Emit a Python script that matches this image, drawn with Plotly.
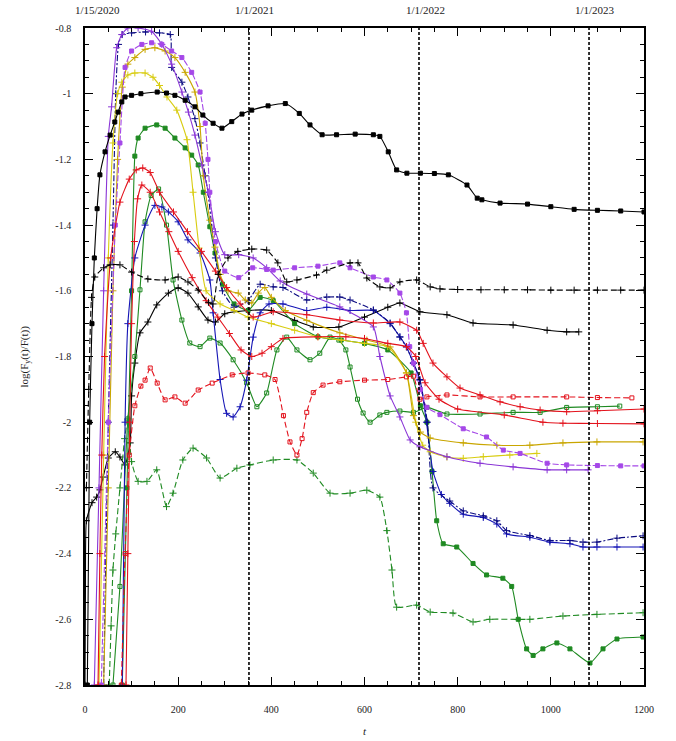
import plotly.graph_objects as go

# ---------------- data ----------------
s1_t = [5, 10, 15, 20, 26, 32, 43, 54, 64, 71, 79, 86, 100, 120, 155, 175, 193, 215, 236, 253, 275, 294, 315, 337, 358, 393, 430, 460, 483, 509, 540, 580, 619, 633, 651, 669, 691, 720, 750, 780, 820, 842, 852, 891, 950, 1000, 1050, 1100, 1150, 1200]
s1_y = [-2.8, -2.0, -1.7, -1.5, -1.35, -1.247, -1.177, -1.126, -1.086, -1.056, -1.025, -1.01, -1.005, -1.0, -0.995, -0.998, -1.005, -1.02, -1.04, -1.065, -1.09, -1.105, -1.085, -1.062, -1.05, -1.037, -1.03, -1.06, -1.095, -1.125, -1.125, -1.123, -1.125, -1.13, -1.177, -1.232, -1.242, -1.242, -1.243, -1.247, -1.278, -1.318, -1.323, -1.333, -1.336, -1.344, -1.352, -1.355, -1.357, -1.36]

s2_t = [3, 8, 14, 21, 40, 54, 75, 100, 135, 172, 200, 221, 243, 265, 275, 286, 307, 328, 358, 390, 414, 433, 455, 497, 519, 569, 586, 605, 633, 655, 676, 712, 741, 762, 800, 850, 900, 950, 1000, 1050, 1100, 1150, 1200]
s2_y = [-2.2, -1.9, -1.62, -1.558, -1.53, -1.521, -1.521, -1.543, -1.564, -1.567, -1.558, -1.573, -1.598, -1.635, -1.64, -1.55, -1.5, -1.48, -1.473, -1.476, -1.515, -1.573, -1.567, -1.552, -1.537, -1.515, -1.515, -1.561, -1.588, -1.591, -1.573, -1.567, -1.588, -1.594, -1.596, -1.597, -1.597, -1.597, -1.598, -1.598, -1.598, -1.598, -1.598]

s4_t = [0, 1, 3, 15, 25, 32, 39, 50, 65, 75, 86, 97, 100, 107, 118, 135, 154, 179, 200, 221, 243, 264, 280, 300, 350, 400, 450, 490, 545, 600, 650, 676, 719, 777, 833, 919, 992, 1034, 1060]
s4_y = [-2.8, -2.5, -2.3, -2.245, -2.228, -2.206, -2.167, -2.109, -2.09, -2.106, -2.13, -2.063, -1.92, -1.82, -1.728, -1.695, -1.643, -1.607, -1.591, -1.607, -1.649, -1.689, -1.695, -1.67, -1.66, -1.66, -1.69, -1.71, -1.71, -1.68, -1.65, -1.637, -1.664, -1.673, -1.698, -1.704, -1.72, -1.725, -1.725]

r1_t = [78, 86, 95, 107, 120, 129, 140, 155, 172, 193, 215, 243, 273, 316, 350, 386, 408, 426, 440, 455, 466, 476, 490, 511, 547, 600, 650, 690, 705, 719, 734, 777, 848, 919, 1034, 1100, 1174]
r1_y = [-2.8, -2.4, -2.1, -1.95, -1.89, -1.872, -1.835, -1.881, -1.932, -1.923, -1.942, -1.902, -1.881, -1.856, -1.85, -1.856, -1.87, -1.98, -2.06, -2.1, -2.05, -1.97, -1.91, -1.887, -1.877, -1.872, -1.87, -1.862, -1.86, -1.93, -1.923, -1.917, -1.923, -1.923, -1.923, -1.925, -1.926]

r2_t = [28, 32, 36, 42, 55, 75, 95, 110, 124, 140, 160, 190, 220, 250, 280, 304, 333, 361, 404, 476, 547, 619, 676, 712, 726, 747, 777, 805, 848, 891, 934, 977, 1034, 1100, 1200]
r2_y = [-2.8, -2.4, -2.1, -1.8, -1.5, -1.33, -1.26, -1.232, -1.226, -1.24, -1.3, -1.36, -1.42, -1.48, -1.54, -1.59, -1.64, -1.68, -1.664, -1.673, -1.689, -1.698, -1.695, -1.72, -1.76, -1.82, -1.862, -1.896, -1.917, -1.938, -1.953, -1.963, -1.968, -1.965, -1.96]

r3_t = [88, 92, 96, 100, 106, 113, 122, 140, 160, 180, 200, 230, 260, 285, 310, 335, 358, 380, 400, 425, 500, 560, 600, 650, 690, 710, 730, 760, 800, 900, 983, 1026, 1100, 1200]
r3_y = [-2.8, -2.4, -2.0, -1.7, -1.45, -1.32, -1.278, -1.3, -1.36, -1.42, -1.48, -1.56, -1.63, -1.68, -1.73, -1.78, -1.8, -1.79, -1.77, -1.745, -1.74, -1.74, -1.745, -1.76, -1.77, -1.8, -1.88, -1.93, -1.96, -1.978, -2.0, -2.003, -2.004, -2.005]

g1_t = [80, 90, 100, 107, 114, 129, 154, 172, 193, 215, 229, 243, 254, 268, 279, 295, 320, 350, 376, 404, 450, 500, 550, 600, 650, 700, 720, 734, 745, 755, 769, 798, 833, 862, 897, 916, 930, 948, 962, 983, 1013, 1041, 1084, 1112, 1142, 1198]
g1_y = [-2.8, -2.2, -1.6, -1.19, -1.135, -1.105, -1.095, -1.105, -1.135, -1.165, -1.187, -1.217, -1.3, -1.405, -1.485, -1.58, -1.64, -1.66, -1.62, -1.63, -1.7, -1.74, -1.75, -1.76, -1.78, -1.85, -1.95, -2.0, -2.15, -2.3, -2.37, -2.38, -2.43, -2.465, -2.475, -2.5, -2.6, -2.69, -2.71, -2.69, -2.672, -2.69, -2.733, -2.69, -2.66, -2.654]

g2_t = [52, 56, 60, 66, 75, 85, 92, 100, 114, 133, 154, 175, 189, 210, 232, 261, 290, 326, 354, 404, 455, 490, 526, 569, 605, 633, 648, 659, 669, 712, 741, 790, 833, 869, 955, 1026, 1099, 1198]
g2_y = [-2.8, -2.62, -2.45, -2.34, -2.2, -2.05, -1.99, -2.12, -2.18, -2.18, -2.145, -2.257, -2.216, -2.115, -2.079, -2.109, -2.17, -2.14, -2.13, -2.115, -2.115, -2.155, -2.216, -2.216, -2.207, -2.228, -2.33, -2.45, -2.563, -2.557, -2.578, -2.581, -2.608, -2.6, -2.6, -2.59, -2.585, -2.58]

g4_t = [60, 75, 92, 107, 118, 129, 142, 158, 175, 189, 208, 225, 247, 268, 290, 318, 347, 369, 390, 412, 433, 455, 483, 504, 526, 545, 560, 569, 585, 597, 612, 633, 648, 676, 705, 734, 777, 848, 919, 977, 1034, 1100, 1148]
g4_y = [-2.8, -2.5, -1.99, -1.8, -1.597, -1.39, -1.31, -1.29, -1.4, -1.567, -1.689, -1.759, -1.77, -1.744, -1.759, -1.81, -1.88, -1.953, -1.911, -1.78, -1.741, -1.78, -1.81, -1.79, -1.741, -1.75, -1.78, -1.832, -1.93, -1.972, -2.0, -1.978, -1.97, -1.966, -1.97, -1.955, -1.975, -1.975, -1.97, -1.97, -1.955, -1.953, -1.951]

b1_t = [80, 86, 92, 107, 129, 150, 165, 179, 200, 221, 247, 268, 275, 290, 304, 318, 333, 347, 361, 376, 395, 425, 476, 519, 569, 619, 655, 676, 690, 705, 719, 733, 747, 765, 783, 812, 855, 884, 905, 955, 998, 1041, 1069, 1099, 1142, 1198]
b1_y = [-2.8, -2.0, -1.7, -1.5, -1.4, -1.34, -1.345, -1.36, -1.39, -1.445, -1.485, -1.567, -1.667, -1.87, -1.973, -1.984, -1.953, -1.872, -1.741, -1.667, -1.64, -1.64, -1.66, -1.65, -1.66, -1.66, -1.7, -1.74, -1.77, -1.82, -1.87, -2.0, -2.15, -2.22, -2.247, -2.28, -2.29, -2.31, -2.34, -2.35, -2.365, -2.37, -2.38, -2.38, -2.38, -2.38]

b2_t = [40, 50, 60, 66, 72, 80, 100, 130, 160, 183, 186, 208, 221, 236, 247, 258, 264, 280, 295, 320, 350, 376, 404, 425, 476, 519, 547, 569, 619, 655, 676, 690, 705, 719, 735, 747, 783, 812, 855, 884, 905, 955, 998, 1041, 1069, 1099, 1142, 1198]
b2_y = [-2.8, -2.0, -1.4, -1.0, -0.85, -0.82, -0.815, -0.812, -0.815, -0.82, -0.92, -0.965, -1.01, -1.076, -1.15, -1.25, -1.3, -1.5, -1.6, -1.65, -1.63, -1.58, -1.588, -1.59, -1.628, -1.619, -1.619, -1.628, -1.658, -1.698, -1.741, -1.771, -1.82, -1.872, -2.0, -2.2, -2.24, -2.27, -2.285, -2.3, -2.33, -2.345, -2.36, -2.36, -2.365, -2.365, -2.353, -2.346]

p1_t = [20, 30, 40, 50, 57, 68, 79, 92, 114, 143, 165, 186, 208, 222, 236, 251, 265, 280, 300, 330, 361, 390, 419, 476, 547, 619, 633, 655, 676, 698, 719, 777, 848, 919, 992, 1034, 1080]
p1_y = [-2.8, -2.2, -1.6, -1.13, -1.04, -0.86, -0.82, -0.8, -0.8, -0.81, -0.85, -0.91, -0.995, -1.056, -1.126, -1.217, -1.3, -1.42, -1.49, -1.49, -1.5, -1.53, -1.57, -1.61, -1.649, -1.71, -1.8, -1.92, -1.984, -2.054, -2.075, -2.105, -2.125, -2.136, -2.145, -2.145, -2.145]

p2_t = [35, 50, 65, 75, 86, 100, 122, 143, 165, 186, 208, 229, 247, 258, 264, 268, 280, 300, 330, 360, 390, 404, 450, 500, 547, 569, 619, 648, 676, 690, 697, 705, 720, 734, 762, 812, 862, 898, 934, 992, 1034, 1100, 1150, 1200]
p2_y = [-2.8, -2.0, -1.4, -1.15, -0.92, -0.87, -0.85, -0.845, -0.85, -0.87, -0.89, -0.935, -0.995, -1.09, -1.2, -1.3, -1.45, -1.54, -1.56, -1.53, -1.535, -1.537, -1.53, -1.525, -1.515, -1.53, -1.558, -1.567, -1.607, -1.667, -1.77, -1.82, -1.9, -1.955, -1.977, -2.02, -2.045, -2.085, -2.095, -2.125, -2.13, -2.132, -2.133, -2.133]

y1_t = [40, 50, 60, 70, 80, 92, 107, 129, 150, 172, 193, 215, 236, 247, 254, 268, 279, 290, 307, 329, 344, 358, 372, 386, 400, 430, 476, 547, 605, 655, 690, 705, 720, 741, 812, 884, 955, 1026, 1099, 1198]
y1_y = [-2.8, -2.2, -1.6, -1.2, -0.98, -0.91, -0.89, -0.865, -0.86, -0.87, -0.89, -0.935, -0.995, -1.1, -1.25, -1.385, -1.467, -1.55, -1.6, -1.607, -1.628, -1.637, -1.607, -1.59, -1.62, -1.66, -1.69, -1.728, -1.75, -1.771, -1.85, -1.98, -2.03, -2.048, -2.063, -2.07, -2.07, -2.063, -2.06, -2.06]

y2_t = [30, 40, 50, 60, 70, 79, 92, 107, 129, 146, 160, 176, 197, 219, 232, 245, 260, 290, 320, 350, 400, 450, 500, 550, 600, 650, 690, 710, 725, 741, 777, 812, 855, 912, 970]
y2_y = [-2.8, -2.1, -1.5, -1.15, -1.0, -0.965, -0.943, -0.937, -0.937, -0.95, -0.975, -1.01, -1.05, -1.14, -1.3, -1.47, -1.6, -1.64, -1.66, -1.68, -1.7, -1.72, -1.74, -1.75, -1.76, -1.77, -1.85, -2.0, -2.07, -2.09, -2.106, -2.11, -2.105, -2.1, -2.095]

x_ticks = [0, 200, 400, 600, 800, 1000, 1200]
y_ticks = [-2.8, -2.6, -2.4, -2.2, -2.0, -1.8, -1.6, -1.4, -1.2, -1.0, -0.8]
y_tick_text = ["-2.8", "-2.6", "-2.4", "-2.2", "-2", "-1.8", "-1.6", "-1.4", "-1.2", "-1", "-0.8"]
date_days = [352, 717, 1082]
label_days = [0, 352, 717, 1082]
date_labels = ["1/15/2020", "1/1/2021", "1/1/2022", "1/1/2023"]

# ---------------- styles ----------------
BLACK = "#000000"
RED = "#E3121C"
GREEN = "#1F8A22"
BLUE = "#1515B5"
NAVY = "#0A0A80"
PURPLE1 = "#8A35D6"
PURPLE2 = "#A548E8"
GOLD = "#C9A600"
YELLOW = "#D8CC10"

series = [
    (s4_t, s4_y, BLACK, "solid", "cross-thin"),
    (g2_t, g2_y, GREEN, "6px,3px", "cross-thin"),
    (g1_t, g1_y, GREEN, "solid", "square"),
    (g4_t, g4_y, GREEN, "solid", "square-open"),
    (b1_t, b1_y, BLUE, "solid", "cross-thin"),
    (b2_t, b2_y, NAVY, "6px,2px,2px,2px", "cross-thin"),
    (y2_t, y2_y, YELLOW, "solid", "cross-thin"),
    (y1_t, y1_y, GOLD, "solid", "cross-thin"),
    (p1_t, p1_y, PURPLE1, "solid", "cross-thin"),
    (p2_t, p2_y, PURPLE2, "6px,2px", "square"),
    (r3_t, r3_y, RED, "solid", "cross-thin"),
    (r2_t, r2_y, RED, "solid", "cross-thin"),
    (r1_t, r1_y, RED, "6px,3px", "square-open"),
    (s2_t, s2_y, BLACK, "6px,3px", "cross-thin"),
    (s1_t, s1_y, BLACK, "solid", "square"),
]

fig = go.Figure()
for t, y, col, dash, sym in series:
    fig.add_trace(go.Scatter(
        x=t, y=y, mode="lines+markers",
        line=dict(color=col, width=1.1, dash=dash, shape="spline", smoothing=0.5),
        marker=dict(symbol=sym, size=4 if "square" in sym else 5, color=col,
                    line=dict(color=col, width=1)),
        showlegend=False, hoverinfo="skip",
    ))

for d in date_days:
    fig.add_shape(type="line", xref="x", yref="paper", x0=d, x1=d, y0=0, y1=1,
                  line=dict(color="black", width=1.6, dash="3px,2px"))

for d, lab in zip(label_days, date_labels):
    fig.add_annotation(x=d, y=1, xref="x", yref="paper", text=lab, showarrow=False,
                       xanchor="center", yanchor="middle", xshift=12 if d == 0 else 6, yshift=18,
                       font=dict(family="Liberation Serif", size=11, color="#222"))

fig.add_annotation(x=0, y=0.5, xref="paper", yref="paper", text="log(F<sub>y</sub>(t)/F(t))",
                   textangle=-90, showarrow=False, xanchor="center", yanchor="middle", xshift=-61,
                   font=dict(family="Liberation Serif", size=11, color="#222"))
fig.add_annotation(x=0.5, y=0, xref="paper", yref="paper", text="<i>t</i>",
                   showarrow=False, xanchor="center", yanchor="middle", yshift=-46,
                   font=dict(family="Liberation Serif", size=11, color="#222"))

axis_common = dict(showline=True, linecolor="black", linewidth=1.6, mirror="allticks",
                   ticks="inside", ticklen=8, tickwidth=1.2, tickcolor="black",
                   showgrid=False, zeroline=False,
                   tickfont=dict(family="Liberation Serif", size=10, color="#222"))

fig.update_layout(
    width=676, height=741,
    margin=dict(l=85, r=32, t=28, b=56),
    paper_bgcolor="white", plot_bgcolor="white",
    xaxis=dict(range=[0, 1200], tickmode="array", tickvals=x_ticks,
               minor=dict(tickmode="linear", tick0=0, dtick=50, ticks="inside", ticklen=4,
                          tickcolor="black", tickwidth=1),
               ticklabelstandoff=14, **axis_common),
    yaxis=dict(range=[-2.8, -0.8], tickmode="array", tickvals=y_ticks, ticktext=y_tick_text,
               minor=dict(tickmode="linear", tick0=-2.8, dtick=0.05, ticks="inside", ticklen=4,
                          tickcolor="black", tickwidth=1),
               ticklabelstandoff=10, **axis_common),
)

fig.write_html("out.html")
